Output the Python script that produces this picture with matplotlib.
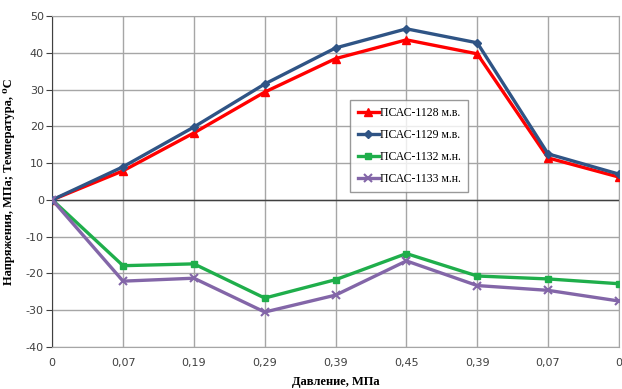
import matplotlib
matplotlib.use('Agg')
import matplotlib.pyplot as plt
import numpy as np

# categories on the x axis (pressure, MPa)
categories = ['0', '0,07', '0,19', '0,29', '0,39', '0,45', '0,39', '0,07', '0']

# series
psas_1128 = [0, 7.9, 18.2, 29.3, 38.4, 43.5, 39.7, 11.4, 6.2]
psas_1129 = [0, 9.0, 19.8, 31.5, 41.3, 46.5, 42.7, 12.5, 7.0]
psas_1132 = [0, -17.9, -17.4, -26.7, -21.7, -14.6, -20.7, -21.5, -22.8]
psas_1133 = [0, -22.1, -21.3, -30.5, -25.9, -16.6, -23.3, -24.6, -27.5]

labels = ['ПСАС-1128 м.в.', 'ПСАС-1129 м.в.', 'ПСАС-1132 м.н.', 'ПСАС-1133 м.н.']
yticks = [-40, -30, -20, -10, 0, 10, 20, 30, 40, 50]

serif = ['Liberation Serif', 'DejaVu Serif']

fig = plt.figure(figsize=(6.22, 3.89), dpi=100)
ax = fig.add_axes([0.084, 0.108, 0.911, 0.851])

x = np.arange(len(categories))
ax.plot(x, psas_1128, color='#ff0000', lw=2.4, marker='^', ms=6, label=labels[0], zorder=4)
ax.plot(x, psas_1129, color='#2f5485', lw=2.4, marker='D', ms=4, label=labels[1], zorder=5)
ax.plot(x, psas_1132, color='#1fae4b', lw=2.4, marker='s', ms=5, label=labels[2], zorder=4)
ax.plot(x, psas_1133, color='#8366a8', lw=2.4, marker='x', ms=6, mew=1.5, label=labels[3], zorder=5)

ax.set_xlim(0, len(categories) - 1)
ax.set_ylim(-40, 50)
ax.set_xticks(x)
ax.set_xticklabels(categories)
ax.set_yticks(yticks)
ax.set_yticklabels([str(v) for v in yticks])

ax.grid(True, color='#a6a6a6', lw=1.0)
ax.set_axisbelow(True)
ax.axhline(0, color='#404040', lw=1.0, zorder=2)

for s in ['top', 'right', 'bottom']:
    ax.spines[s].set_color('#a6a6a6')
ax.spines['left'].set_color('#404040')
ax.tick_params(axis='y', direction='out', length=4, color='#404040', labelsize=8, labelcolor='#404040', pad=2)
ax.tick_params(axis='x', length=0, labelsize=8, labelcolor='#404040', pad=8)

ax.set_xlabel('Давление, МПа', family=serif, fontweight='bold', fontsize=9, labelpad=6)
ax.set_ylabel('Напряжения, МПа; Температура, ⁰С', family=serif, fontweight='bold', fontsize=9, labelpad=8)

leg = ax.legend(loc='center', bbox_to_anchor=(0.63, 0.607), prop={'family': serif, 'size': 8.5},
                frameon=True, fancybox=False, edgecolor='#808080', handlelength=1.8,
                handletextpad=0.1, labelspacing=0.85, borderpad=0.6)
leg.get_frame().set_linewidth(1.0)

fig.savefig('out.png', dpi=100)
